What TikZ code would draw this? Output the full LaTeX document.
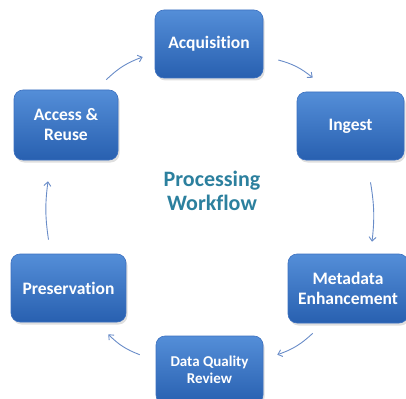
\documentclass[tikz,border=0pt]{standalone}
\usepackage{fontspec}
\setmainfont{Carlito}[Ligatures={NoCommon,NoDiscretionary,NoRare}]
\usetikzlibrary{arrows.meta,shadows,calc}
\definecolor{boxtop}{RGB}{84,142,216}
\definecolor{boxbot}{RGB}{40,96,176}
\definecolor{boxedge}{RGB}{60,112,192}
\definecolor{arrowc}{RGB}{105,140,200}
\definecolor{titlec}{RGB}{44,128,158}
\begin{document}
\begin{tikzpicture}[x=1pt,y=-1pt,
  stepbox/.style={draw=boxedge, line width=0.6pt, rounded corners=9pt,
    top color=boxtop, bottom color=boxbot, text=white,
    font=\bfseries\fontsize{17.5}{20}\selectfont, align=center, inner sep=0pt,
    drop shadow={opacity=0.25, shadow xshift=1.5pt, shadow yshift=-2.5pt}},
  flow/.style={arrowc, line width=0.9pt, -{Straight Barb[length=4pt,width=7pt]}},
  title/.style={text=titlec, font=\bfseries\fontsize{22}{24}\selectfont, align=center}]
\useasboundingbox (0,0) rectangle (406,398);
\clip (0,0) rectangle (406,398);
\node[stepbox, minimum width=108pt, minimum height=68pt] (acq) at (209,44) {Acquisition};
\node[stepbox, minimum width=107pt, minimum height=68pt] (ing) at (350.5,126) {Ingest};
\node[stepbox, minimum width=104pt, minimum height=70pt] (acc) at (66,125) {Access \&\\Reuse};
\node[stepbox, minimum width=115pt, minimum height=68pt] (pres) at (68.5,288) {Preservation};
\node[stepbox, minimum width=120pt, minimum height=69pt] (meta) at (348,288.5) {Metadata\\Enhancement};
\node[stepbox, minimum width=107pt, minimum height=68pt, font=\bfseries\fontsize{15}{17.5}\selectfont] (dqr) at (209.5,370) {Data Quality\\Review};
\node[title] (ttl) at (212,191) {Processing\\Workflow};
\draw[flow] ($(acc.north east)+(-12,-10)$) to[bend left=12] ($(acq.west)+(-12,13)$);
\draw[flow] ($(acq.east)+(15,16)$) to[bend left=12] ($(ing.north west)+(16,-14)$);
\draw[flow] ($(ing.south)+(20,22)$) to[bend left=8] ($(meta.north)+(24,-12)$);
\draw[flow] ($(meta.south west)+(25,10)$) to[bend left=12] ($(dqr.north east)+(14,19)$);
\draw[flow] ($(dqr.north west)+(-16,19)$) to[bend left=12] ($(pres.south east)+(-18,12)$);
\draw[flow] ($(pres.north)+(-20,-14)$) to[bend left=8] ($(acc.south)+(-18,21)$);
\end{tikzpicture}
\end{document}
